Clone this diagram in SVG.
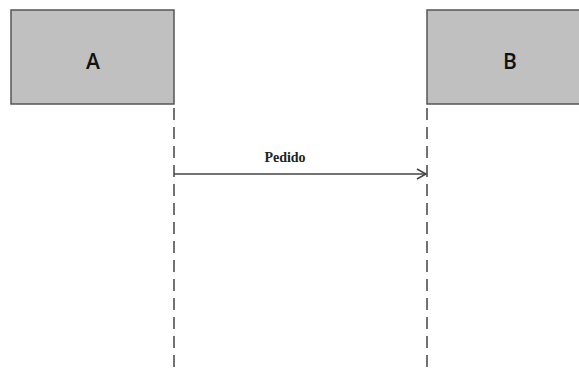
<svg xmlns="http://www.w3.org/2000/svg" width="579" height="376" viewBox="0 0 579 376">
<style>
.box{fill:#c0c0c0;stroke:#555;stroke-width:1.5}
.lbl{font-family:"Open Sans","Liberation Sans",Arial,sans-serif;font-weight:600;font-size:21px;fill:#111;text-anchor:middle}
.life{stroke:#444;stroke-width:1.5;stroke-dasharray:12 7;fill:none}
.msg{stroke:#444;stroke-width:1.5;fill:none}
.mtxt{font-family:"Liberation Serif","Times New Roman",serif;font-weight:bold;font-size:14px;fill:#222;text-anchor:middle}
</style>
<defs>
<marker id="arr" markerWidth="12" markerHeight="12" refX="10" refY="6" orient="auto" markerUnits="userSpaceOnUse">
<path d="M1,1 L10,6 L1,11" fill="none" stroke="#444" stroke-width="1.5"/>
</marker>
</defs>
<rect width="579" height="376" fill="#fff"/>
<g id="A">
<rect class="box" x="11" y="10" width="163" height="94"/>
<text class="lbl" x="93" y="69">A</text>
</g>
<g id="B">
<rect class="box" x="427" y="10" width="160" height="94"/>
<text class="lbl" x="510" y="69">B</text>
</g>
<g id="connectors">
<line class="life" x1="174" y1="108" x2="174" y2="372"/>
<line class="life" x1="427" y1="108" x2="427" y2="372"/>
<line class="msg" x1="174" y1="174" x2="426" y2="174" marker-end="url(#arr)"/>
<text class="mtxt" x="285" y="162">Pedido</text>
</g>
</svg>
